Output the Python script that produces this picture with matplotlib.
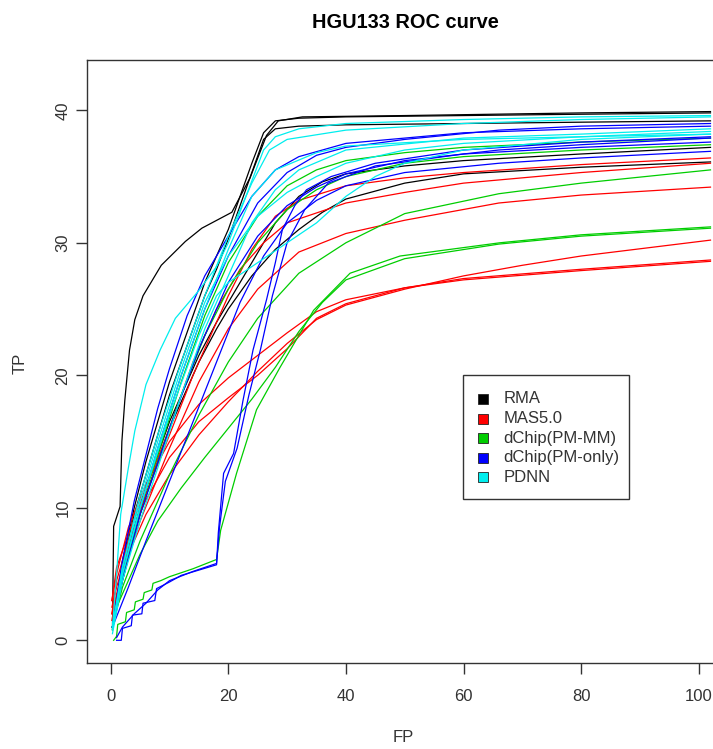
import matplotlib
matplotlib.use("Agg")
import matplotlib.pyplot as plt
from matplotlib.patches import Rectangle

plt.rcParams['font.family'] = ['Liberation Sans', 'DejaVu Sans']

# Figure geometry (pixels)
W, H = 713, 749

# Legend entries and colours (R default palette)
methods = ["RMA", "MAS5.0", "dChip(PM-MM)", "dChip(PM-only)", "PDNN"]
colors = ["#000000", "#FF0000", "#00CD00", "#0000FF", "#00EEEE"]

# ---- ROC curves: (FP list, TP list) per array ----
rma_curves = [
    ([0.3, 0.5, 1.6, 1.9, 2.4, 3.2, 4.1, 5.5, 8.6, 12.7, 15.5, 18.9, 20.6, 23.7, 26.5, 28.5, 32.6, 50, 80, 102],
     [0.8, 8.6, 10.1, 15.0, 18.1, 21.9, 24.2, 26.0, 28.3, 30.1, 31.1, 31.9, 32.3, 34.9, 38.1, 39.2, 39.5, 39.6, 39.8, 39.9]),
    ([0.3, 2, 4, 6, 8, 10, 12, 14, 16, 18, 20, 22, 24, 26, 28, 32, 40, 60, 80, 102],
     [1.0, 6.0, 10.0, 13.5, 16.5, 19.5, 22.0, 24.5, 27.0, 29.0, 31.0, 33.5, 36.0, 38.3, 39.2, 39.4, 39.5, 39.6, 39.7, 39.8]),
    ([0.3, 2, 4, 6, 8, 10, 12, 14, 16, 18, 20, 22, 24, 26, 28, 32, 40, 60, 80, 102],
     [1.0, 5.5, 9.5, 12.5, 15.5, 18.5, 21.0, 23.5, 26.0, 28.0, 30.3, 32.8, 35.3, 37.8, 38.6, 38.8, 38.9, 39.0, 39.1, 39.2]),
    ([0.3, 2, 4, 6, 8, 10, 12, 15, 18, 20, 24, 28, 32, 36, 40, 50, 60, 80, 102],
     [1.0, 5.0, 8.5, 11.5, 14.0, 16.5, 18.5, 21.5, 24.0, 25.5, 28.5, 31.5, 33.5, 34.6, 35.2, 35.8, 36.2, 36.7, 37.2]),
    ([0.3, 2, 4, 6, 8, 10, 12, 15, 18, 20, 24, 28, 32, 36, 40, 50, 60, 80, 102],
     [1.0, 4.5, 8.0, 11.0, 13.5, 16.0, 18.0, 21.0, 23.5, 25.0, 27.5, 29.5, 31.0, 32.3, 33.3, 34.5, 35.2, 35.7, 36.1]),
]

mas5_curves = [
    ([0.2, 1, 3, 6, 10, 14, 18, 20, 24, 28, 32, 40, 50, 60, 80, 102],
     [2.5, 4.0, 7.0, 11.0, 15.5, 20.0, 24.0, 26.0, 29.5, 32.0, 33.2, 34.3, 34.9, 35.3, 35.9, 36.4]),
    ([0.2, 2, 5, 10, 15, 20, 25, 32, 40, 50, 66, 80, 102],
     [2.0, 5.0, 9.0, 14.5, 19.5, 23.5, 26.5, 29.3, 30.7, 31.7, 33.0, 33.6, 34.2]),
    ([0.2, 1, 3, 6, 10, 15, 20, 25, 30, 35, 40, 50, 60, 70, 80, 102],
     [1.5, 3.5, 6.5, 9.5, 12.5, 15.5, 18.0, 20.3, 22.4, 24.2, 25.3, 26.5, 27.5, 28.3, 29.0, 30.2]),
    ([0.2, 1, 3, 6, 10, 15, 20, 25, 30, 35, 40, 50, 60, 80, 102],
     [2.0, 4.5, 7.5, 10.6, 13.8, 16.5, 18.3, 20.0, 22.0, 24.3, 25.4, 26.6, 27.3, 28.0, 28.7]),
    ([0.2, 1, 3, 6, 10, 15, 20, 25, 30, 35, 40, 50, 60, 80, 102],
     [3.0, 5.0, 8.5, 11.8, 15.0, 17.8, 19.8, 21.5, 23.2, 24.8, 25.7, 26.6, 27.2, 27.9, 28.6]),
    ([0.2, 1, 3, 6, 10, 14, 18, 22, 26, 30, 40, 50, 60, 80, 102],
     [3.0, 5.5, 8.0, 11.5, 16.0, 21.0, 25.0, 28.0, 30.0, 31.5, 33.0, 33.8, 34.5, 35.3, 36.0]),
]

dchip_mm_curves = [
    ([0.5, 1, 1.2, 2.5, 2.7, 4, 4.2, 5.5, 5.7, 7, 7.2, 8.5, 10, 14, 18, 18.7, 21.4, 24.8, 28.8, 34.5, 40.7, 49.2, 66.2, 80, 102],
     [0.0, 0.3, 1.2, 1.4, 2.1, 2.3, 2.9, 3.1, 3.6, 3.8, 4.3, 4.5, 4.8, 5.4, 6.1, 8.3, 12.6, 17.4, 20.6, 24.9, 27.7, 29.0, 30.0, 30.6, 31.2]),
    ([0.3, 1, 3, 5, 8, 12, 16, 20, 24, 28, 32, 36, 40, 50, 66, 80, 102],
     [0.8, 2.5, 4.5, 6.5, 9.0, 11.5, 13.8, 16.0, 18.2, 20.6, 23.3, 25.5, 27.2, 28.8, 29.9, 30.5, 31.1]),
    ([0.3, 2, 5, 10, 15, 20, 25, 32, 40, 50, 66, 80, 102],
     [1.0, 4.0, 7.5, 12.5, 17.0, 21.0, 24.3, 27.7, 30.0, 32.2, 33.7, 34.5, 35.5]),
    ([0.3, 2, 5, 8, 12, 16, 20, 25, 30, 35, 40, 50, 60, 80, 102],
     [1.0, 5.0, 10.0, 14.0, 19.5, 24.5, 28.5, 32.0, 34.3, 35.5, 36.2, 36.8, 37.2, 37.6, 37.9]),
    ([0.3, 2, 5, 8, 12, 16, 20, 25, 30, 35, 40, 50, 60, 80, 102],
     [1.0, 5.0, 9.5, 13.5, 18.5, 23.0, 26.5, 30.0, 32.5, 34.0, 35.0, 36.0, 36.5, 37.0, 37.4]),
]

dchip_pm_curves = [
    ([1, 1.8, 2, 3.5, 3.7, 5.3, 5.5, 7.5, 7.8, 10, 12, 15, 18, 18.3, 19.2, 20.9, 22.5, 24.2, 26.5, 28, 29.2, 31.3, 33.3, 37.5, 45, 60, 80, 102],
     [0.0, 0.0, 0.9, 1.1, 1.9, 2.0, 2.8, 3.0, 3.9, 4.4, 4.9, 5.3, 5.7, 8.1, 12.6, 14.1, 18.1, 21.9, 25.7, 28.5, 31.0, 32.8, 34.0, 35.0, 36.0, 37.0, 37.6, 38.0]),
    ([1, 2, 4, 6, 8, 10, 14, 18, 18.5, 19.5, 21.5, 23.5, 25.5, 27.5, 30, 33, 37, 45, 60, 80, 102],
     [0.2, 1.0, 2.0, 2.8, 3.8, 4.5, 5.2, 5.8, 8.5, 12.0, 14.5, 18.5, 22.0, 26.0, 30.0, 32.5, 34.5, 35.8, 36.7, 37.2, 37.6]),
    ([0.3, 2, 5, 8, 12, 16, 20, 25, 30, 35, 40, 50, 66, 80, 102],
     [1.0, 5.0, 10.0, 14.5, 20.0, 25.0, 29.0, 33.0, 35.3, 36.6, 37.2, 37.8, 38.5, 38.8, 39.0]),
    ([0.3, 2, 5, 10, 15, 20, 25, 30, 35, 40, 50, 66, 80, 102],
     [1.0, 4.5, 9.5, 16.0, 22.0, 27.0, 30.5, 32.8, 34.2, 35.2, 36.2, 37.0, 37.4, 37.9]),
    ([0.3, 3, 6, 10, 14, 18, 22, 26, 30, 35, 40, 50, 66, 80, 102],
     [1.0, 4.0, 7.5, 12.0, 16.5, 21.0, 25.5, 29.0, 31.5, 33.2, 34.3, 35.3, 36.0, 36.4, 36.9]),
    ([0.3, 2, 4, 6, 8, 10, 13, 16, 20, 24, 28, 32, 40, 60, 80, 102],
     [1.0, 6.0, 10.5, 14.0, 17.5, 20.5, 24.5, 27.5, 30.5, 33.5, 35.5, 36.5, 37.5, 38.3, 38.6, 38.8]),
]

pdnn_curves = [
    ([0.3, 1, 1.7, 3, 4.1, 6, 8.4, 11, 15, 18, 20, 23, 26, 28, 32, 40, 60, 80, 102],
     [1.0, 5.0, 9.5, 13.0, 15.8, 19.3, 21.9, 24.3, 26.4, 28.2, 30.0, 33.5, 37.0, 38.0, 38.6, 39.0, 39.3, 39.5, 39.6]),
    ([0.3, 2, 5, 8, 12, 16, 20, 24, 27, 30, 40, 60, 80, 102],
     [1.0, 5.5, 11.0, 15.5, 21.0, 26.0, 30.5, 34.5, 37.0, 37.8, 38.5, 39.0, 39.3, 39.5]),
    ([0.3, 2, 5, 8, 12, 16, 20, 24, 28, 35, 40, 60, 80, 102],
     [1.0, 5.0, 10.0, 14.5, 20.0, 25.0, 29.5, 33.5, 35.5, 36.8, 37.3, 37.8, 38.0, 38.2]),
    ([0.3, 2, 5, 10, 15, 18, 20, 25, 30, 35, 40, 45, 50, 60, 80, 102],
     [1.0, 5.0, 10.0, 17.0, 23.0, 26.0, 27.0, 28.5, 30.0, 31.5, 33.5, 35.0, 36.0, 37.0, 37.8, 38.2]),
    ([0.3, 2, 5, 8, 12, 16, 20, 24, 28, 32, 40, 60, 80, 102],
     [0.5, 4.5, 9.0, 13.0, 18.5, 23.5, 27.5, 31.5, 34.0, 35.5, 37.0, 37.9, 38.2, 38.6]),
    ([0.3, 2, 5, 8, 12, 16, 20, 25, 30, 35, 40, 50, 60, 80, 102],
     [0.8, 5.5, 10.5, 15.0, 20.5, 25.5, 29.0, 32.0, 33.8, 35.0, 36.0, 37.0, 37.5, 38.0, 38.4]),
]

all_groups = [rma_curves, mas5_curves, dchip_mm_curves, dchip_pm_curves, pdnn_curves]

x_ticks = [0, 20, 40, 60, 80, 100]
y_ticks = [0, 10, 20, 30, 40]


def fx(px):
    return px / W


def fy(py):
    return 1 - py / H


fig = plt.figure(figsize=(W / 100, H / 100), dpi=100)
# plot region extends past the right edge (the original picture is cropped)
ax = fig.add_axes([fx(86.7), fy(662.7), fx(734.6) - fx(86.7), fy(60.3) - fy(662.7)])

for group, col in zip(all_groups, colors):
    for fp, tp in group:
        ax.plot(fp, tp, color=col, linewidth=0.9)

ax.set_xlim(-4.08, 106.1)
ax.set_ylim(-1.69, 43.77)
ax.set_xticks(x_ticks)
ax.set_yticks(y_ticks)
for s in ax.spines.values():
    s.set_color("#333333")
    s.set_linewidth(1.0)
ax.tick_params(axis="both", direction="out", length=7.7, width=1.0, color="#333333",
               labelsize=12, labelcolor="#333333")
ax.tick_params(axis="x", pad=11)
ax.tick_params(axis="y", pad=4, labelrotation=90)
for lab in ax.get_yticklabels():
    lab.set_va("center")

# titles
fig.text(fx(405), fy(23), "HGU133 ROC curve", ha="center", va="center",
         fontsize=14.4, fontweight="bold")
fig.text(fx(403), fy(738), "FP", ha="center", va="center", fontsize=12, color="#333333")
fig.text(fx(20), fy(363), "TP", ha="center", va="center", fontsize=12, color="#333333",
         rotation=90)

# legend box drawn like R's legend()
box_l, box_t, box_r, box_b = 462.7, 375.0, 629.3, 499.3
fig.add_artist(Rectangle((fx(box_l), fy(box_b)), fx(box_r) - fx(box_l), fy(box_t) - fy(box_b),
                         transform=fig.transFigure, facecolor="white", edgecolor="#333333",
                         linewidth=1.0, zorder=5))
row_y = [399, 418.5, 438, 457.5, 477]
sq = 10
for name, col, ry in zip(methods, colors, row_y):
    fig.add_artist(Rectangle((fx(483.3 - sq / 2), fy(ry + sq / 2)), sq / W, sq / H,
                             transform=fig.transFigure, facecolor=col, edgecolor="#222222",
                             linewidth=0.6, zorder=6))
    fig.text(fx(503.3), fy(ry), name, ha="left", va="center", fontsize=12,
             color="#333333", zorder=6)

fig.savefig("out.png", dpi=100)
